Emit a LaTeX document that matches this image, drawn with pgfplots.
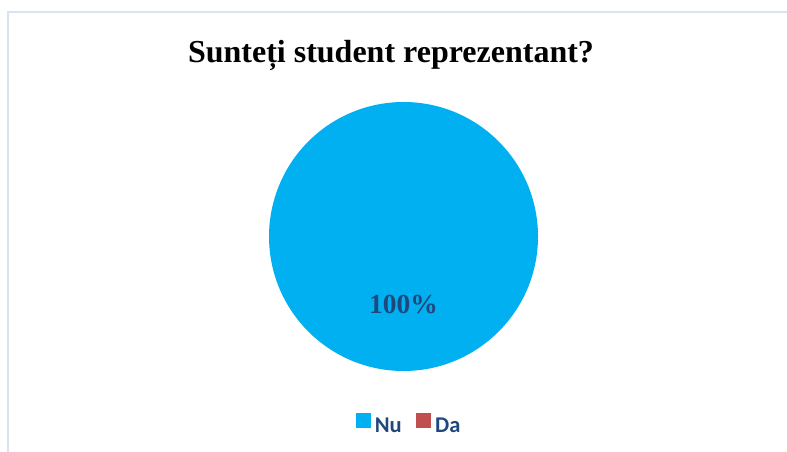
\documentclass[border=0pt]{standalone}
\usepackage{fontspec}
\setmainfont{Liberation Serif}
\newfontfamily\carlito{Carlito}
\usepackage{pgfplots}
\usepackage{pgfplotstable}
\pgfplotsset{compat=1.18}
\definecolor{pieNu}{HTML}{00B0F0}
\definecolor{pieDa}{HTML}{C0504D}
\definecolor{txtblue}{HTML}{1F497D}
\definecolor{framecol}{HTML}{D9E4F2}
\pgfplotstableread{
label value
Nu 100
Da 0
}\piedata
\begin{document}
\begin{tikzpicture}
\useasboundingbox (0,0) rectangle (787bp,452bp);
\begin{scope}
\clip (0,0) rectangle (787bp,452bp);
\draw[framecol, line width=2bp] (8bp,-10bp) -- (8bp,440bp) -- (800bp,440bp);
\end{scope}
\pgfplotstablegetelem{0}{value}\of\piedata \let\vNu\pgfplotsretval
\pgfplotstablegetelem{1}{value}\of\piedata \let\vDa\pgfplotsretval
\begin{axis}[
  at={(0,0)}, anchor=south west,
  scale only axis, width=787bp, height=452bp,
  xmin=0, xmax=787, ymin=0, ymax=452,
  hide axis, clip=false,
  legend columns=2,
  legend style={draw=none, fill=none, inner sep=0pt,
    at={(408/787,28.5/452)}, anchor=center,
    font=\carlito\bfseries\fontsize{22.5bp}{26bp}\selectfont,
    text=txtblue,
    nodes={inner sep=0pt},
    /tikz/every odd column/.append style={column sep=5bp},
    /tikz/every even column/.append style={column sep=14bp}},
  legend image code/.code={\fill[#1] (0bp,-1bp) rectangle (14bp,13bp);},
]
\addlegendimage{pieNu}
\addlegendentry{Nu}
\addlegendimage{pieDa}
\addlegendentry{Da}
% Nu slice: start at 90 deg, clockwise
\pgfmathsetmacro{\aNu}{-3.6*\vNu}
\pgfmathsetmacro{\aDa}{-3.6*\vDa}
\fill[pieNu] (axis cs:403.5,215.5) -- ++(90:134.5bp) arc[start angle=90, delta angle=\aNu, radius=134.5bp] -- cycle;
\pgfmathsetmacro{\sDa}{90+\aNu}
\ifdim \vDa pt>0pt
\fill[pieDa] (axis cs:403.5,215.5) -- ++(\sDa:134.5bp) arc[start angle=\sDa, delta angle=\aDa, radius=134.5bp] -- cycle;
\fi
\node[text=txtblue, font=\bfseries\fontsize{27.5bp}{30bp}\selectfont, anchor=center, inner sep=0pt] at (axis cs:403.5,147.8) {100\%};
\node[font=\bfseries\fontsize{32bp}{36bp}\selectfont, anchor=base, inner sep=0pt] at (axis cs:391,389) {Sunteți student reprezentant?};
\end{axis}
\end{tikzpicture}
\end{document}
